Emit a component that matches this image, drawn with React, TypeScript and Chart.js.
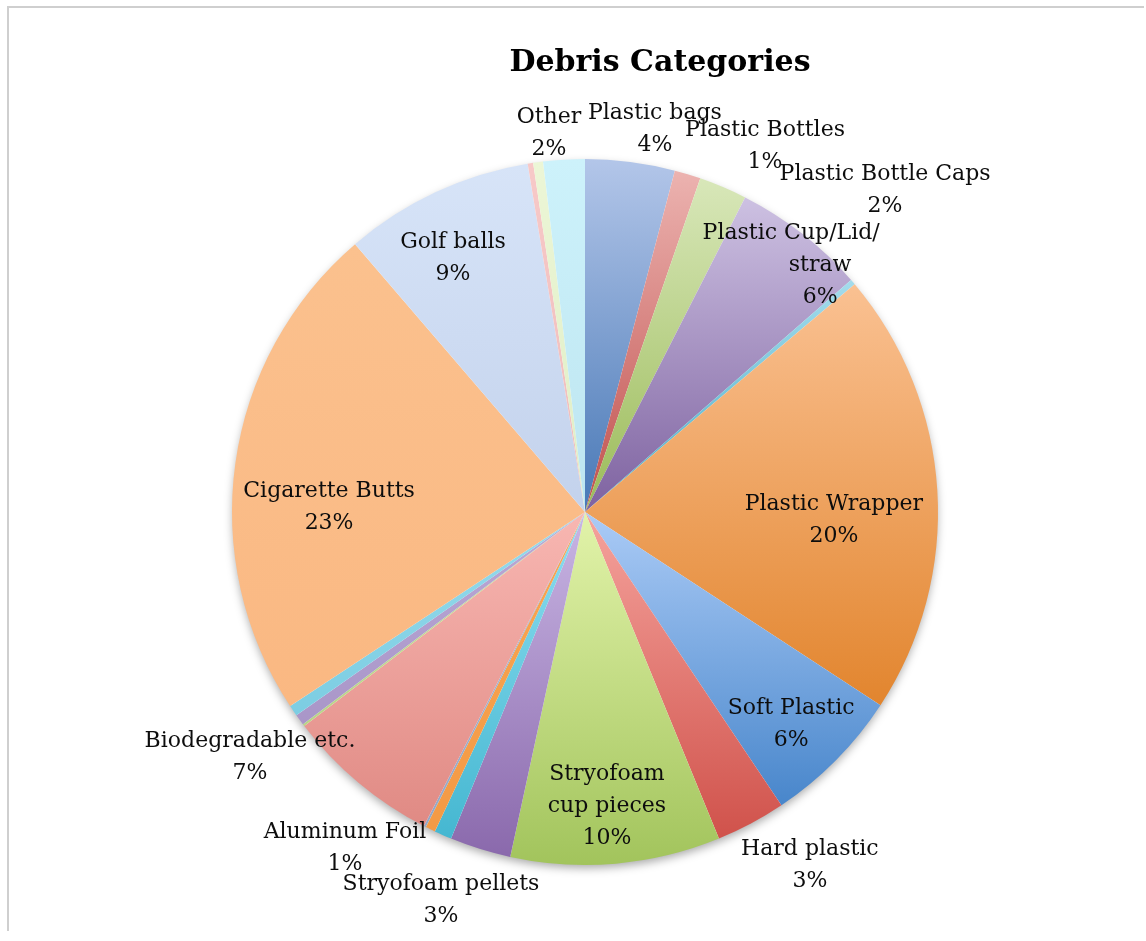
import React, { useEffect, useRef } from "react";
import { Chart, registerables } from "chart.js";

Chart.register(...registerables);

const TITLE = "Debris Categories";

const categories = [
  "Plastic bags",
  "Plastic Bottles",
  "Plastic Bottle Caps",
  "Plastic Cup/Lid/straw",
  "Unlabeled A",
  "Plastic Wrapper",
  "Soft Plastic",
  "Hard plastic",
  "Stryofoam cup pieces",
  "Stryofoam pellets",
  "Aluminum Foil",
  "Unlabeled B",
  "Unlabeled C",
  "Biodegradable etc.",
  "Unlabeled D",
  "Unlabeled E",
  "Unlabeled F",
  "Cigarette Butts",
  "Golf balls",
  "Unlabeled G",
  "Unlabeled H",
  "Other",
];

const values = [
  4.1, 1.2, 2.2, 6.1, 0.25, 20.4, 6.4, 3.2, 9.6, 2.8, 0.8, 0.45, 0.1, 7.1, 0.1,
  0.5, 0.5, 23.0, 8.7, 0.25, 0.45, 1.9,
];

// gradient colours per slice: [top, bottom]
const topColors = [
  "#b3c6e9", "#ecb3b0", "#d8e7b9", "#cdc1e2", "#a4dcec", "#fac192", "#abcbf6",
  "#f5a39d", "#e2f3aa", "#c9b6e4", "#8edef0", "#f9a654", "#a6b9d4", "#f8b7b2",
  "#c9e29c", "#bba9d6", "#97dbec", "#fbc18e", "#d7e4f8", "#f7c9c8", "#ecf6d6",
  "#cdf2fb",
];
const bottomColors = [
  "#4878b6", "#c0504d", "#9bbb59", "#7e62a0", "#4bacc6", "#e2852e", "#4886cb",
  "#d0524b", "#a2c45c", "#8a69ac", "#45b7d1", "#f39a45", "#92a8c8", "#e08a84",
  "#b8d487", "#a996c8", "#7ccde2", "#fab882", "#c3d2ec", "#eebcbb", "#dfeec6",
  "#bde5f0",
];

// label placement relative to pie centre, in units of the radius
const labelLayout: Record<number, { dx: number; dy: number; lines?: string[]; lineDx?: number[] }> = {
  0: { dx: 0.198, dy: -1.085 },
  1: { dx: 0.51, dy: -1.037 },
  2: { dx: 0.85, dy: -0.912 },
  3: { dx: 0.666, dy: -0.7, lines: ["Plastic Cup/Lid/", "straw"], lineDx: [-0.082, 0, 0] },
  5: { dx: 0.705, dy: 0.023 },
  6: { dx: 0.584, dy: 0.601 },
  7: { dx: 0.637, dy: 1.0 },
  8: { dx: 0.062, dy: 0.833, lines: ["Stryofoam", "cup pieces"] },
  9: { dx: -0.408, dy: 1.099 },
  10: { dx: -0.68, dy: 0.952 },
  13: { dx: -0.949, dy: 0.694 },
  17: { dx: -0.725, dy: -0.014 },
  18: { dx: -0.374, dy: -0.72 },
  21: { dx: -0.102, dy: -1.074 },
};

const total = values.reduce((a, b) => a + b, 0);
const cumulative: number[] = [];
values.reduce((acc, v, i) => {
  cumulative[i] = acc;
  return acc + v;
}, 0);

function sliceGradient(context: any) {
  const chart = context.chart;
  const i = context.dataIndex;
  const area = chart.chartArea;
  if (!area || i === undefined) return topColors[i] || "#ccc";
  const cx = (area.left + area.right) / 2;
  const cy = (area.top + area.bottom) / 2;
  const r = Math.min(area.width, area.height) / 2;
  const a0 = -Math.PI / 2 + (cumulative[i] / total) * Math.PI * 2;
  const a1 = -Math.PI / 2 + ((cumulative[i] + values[i]) / total) * Math.PI * 2;
  const ys = [cy, cy + r * Math.sin(a0), cy + r * Math.sin(a1)];
  if (a0 <= -Math.PI / 2 + 1e-6) ys.push(cy - r);
  if (a0 < Math.PI / 2 && a1 > Math.PI / 2) ys.push(cy + r);
  if (a0 < (3 * Math.PI) / 2 && a1 >= (3 * Math.PI) / 2 - 1e-6) ys.push(cy - r);
  const minY = Math.min(...ys);
  let maxY = Math.max(...ys);
  if (maxY - minY < 1) maxY = minY + 1;
  const g = chart.ctx.createLinearGradient(0, minY, 0, maxY);
  g.addColorStop(0, topColors[i]);
  g.addColorStop(1, bottomColors[i]);
  return g;
}

const shadowPlugin = {
  id: "pieShadow",
  beforeDatasetsDraw(chart: any) {
    const arc = chart.getDatasetMeta(0).data[0];
    if (!arc) return;
    const { ctx } = chart;
    ctx.save();
    ctx.beginPath();
    ctx.arc(arc.x, arc.y, arc.outerRadius - 1, 0, Math.PI * 2);
    ctx.fillStyle = "#ffffff";
    ctx.shadowColor = "rgba(0,0,0,0.35)";
    ctx.shadowBlur = 10;
    ctx.shadowOffsetY = 4;
    ctx.fill();
    ctx.restore();
  },
};

const labelPlugin = {
  id: "pieLabels",
  afterDatasetsDraw(chart: any) {
    const { ctx } = chart;
    const meta = chart.getDatasetMeta(0);
    ctx.save();
    ctx.fillStyle = "#0d0d0d";
    ctx.textAlign = "center";
    ctx.textBaseline = "middle";
    ctx.font = "22px 'DejaVu Serif'";
    const lh = 32;
    Object.keys(labelLayout).forEach((k) => {
      const i = Number(k);
      const arc = meta.data[i];
      if (!arc) return;
      const lay = labelLayout[i];
      const r = arc.outerRadius;
      const pct = Math.round((values[i] / total) * 100) + "%";
      const lines = [...(lay.lines || [categories[i]]), pct];
      const x = arc.x + lay.dx * r;
      const y = arc.y + lay.dy * r;
      lines.forEach((t, j) => {
        const ldx = lay.lineDx ? lay.lineDx[j] * r : 0;
        ctx.fillText(t, x + ldx, y + (j - (lines.length - 1) / 2) * lh);
      });
    });
    // title
    ctx.font = "bold 30px 'DejaVu Serif'";
    ctx.fillStyle = "#000000";
    ctx.fillText(TITLE, 651, 55);
    ctx.restore();
  },
};

export default function App() {
  const canvasRef = useRef<HTMLCanvasElement | null>(null);

  useEffect(() => {
    document.body.style.overflow = "hidden";
    const canvas = canvasRef.current;
    if (!canvas) return;
    const chart = new Chart(canvas, {
      type: "pie",
      data: {
        labels: categories,
        datasets: [
          {
            data: values,
            backgroundColor: sliceGradient,
            borderWidth: 0,
            hoverOffset: 0,
          },
        ],
      },
      options: {
        responsive: false,
        maintainAspectRatio: false,
        animation: false,
        layout: { padding: { left: 223, right: 206, top: 151, bottom: 66 } },
        plugins: {
          legend: { display: false },
          tooltip: { enabled: false },
          title: { display: false },
        },
      },
      plugins: [shadowPlugin, labelPlugin],
    });
    return () => chart.destroy();
  }, []);

  return (
    <div
      style={{
        position: "absolute",
        top: 6,
        left: 7,
        width: 1137,
        height: 925,
        borderTop: "2px solid #cfcfcf",
        borderLeft: "2px solid #cfcfcf",
        boxSizing: "border-box",
        background: "#ffffff",
      }}
    >
      <canvas ref={canvasRef} width={1135} height={923} style={{ display: "block" }} />
    </div>
  );
}
